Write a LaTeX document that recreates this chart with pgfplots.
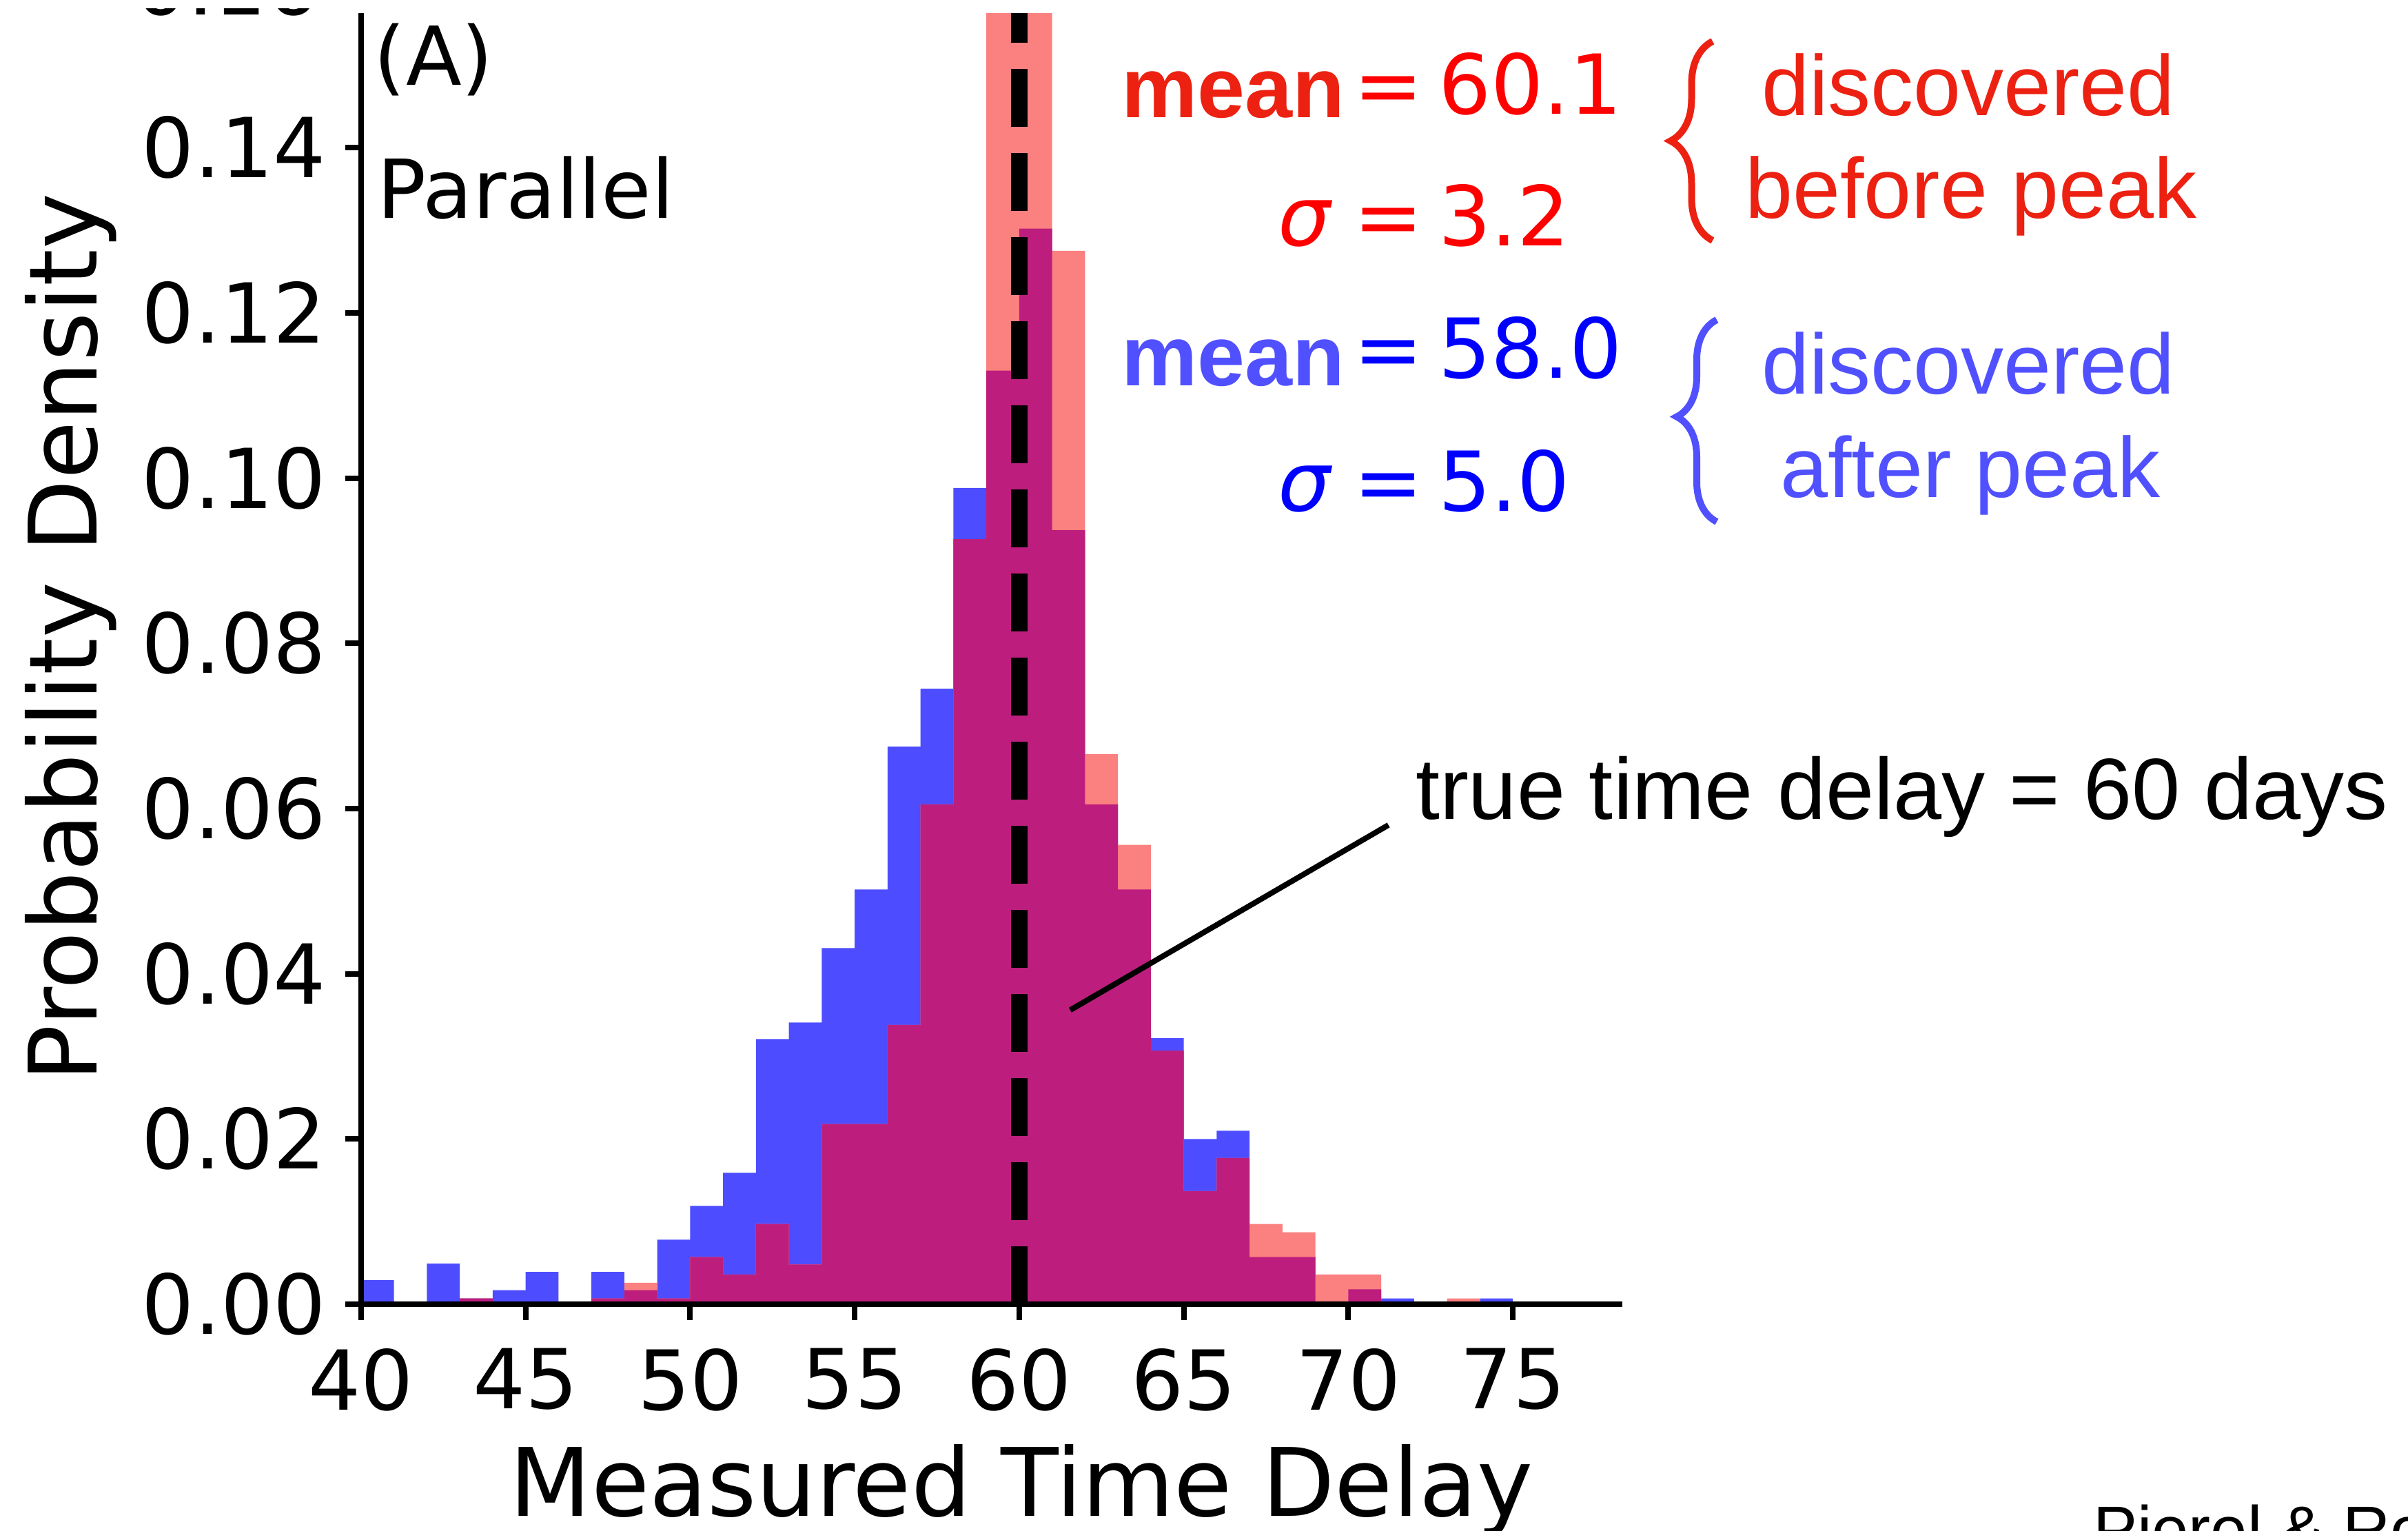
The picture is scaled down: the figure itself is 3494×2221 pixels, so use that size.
\documentclass[border=0pt]{standalone}
\usepackage{pgfplots}
\pgfplotsset{compat=1.18}
\usepackage{pgfplotstable}
\usetikzlibrary{decorations.pathreplacing}
\usepackage{fontspec}
\setmainfont{DejaVu Sans}
\newfontfamily\helv{Liberation Sans}

\definecolor{histblue}{RGB}{77,77,255}
\definecolor{histred}{RGB}{251,128,128}
\definecolor{histboth}{RGB}{189,30,125}
\definecolor{notered}{RGB}{236,33,18}
\definecolor{noteblue}{RGB}{80,80,255}

% left bin edge, density discovered after peak (blue), before peak (red)
\pgfplotstableread{
left blue   red
40   0.0029 0
41   0      0
42   0.0049 0
43   0.0007 0.0007
44   0.0017 0
45   0.0039 0
46   0      0
47   0.0039 0.0007
48   0.0017 0.0026
49   0.0078 0.0007
50   0.0119 0.0057
51   0.0159 0.0036
52   0.0321 0.0097
53   0.0341 0.0048
54   0.0431 0.0218
55   0.0502 0.0218
56   0.0675 0.0338
57   0.0745 0.0605
58   0.0988 0.0926
59   0.1130 0.1950
60   0.1302 0.2070
61   0.0937 0.1275
62   0.0605 0.0666
63   0.0502 0.0556
64   0.0322 0.0307
65   0.0200 0.0137
66   0.0210 0.0177
67   0.0057 0.0097
68   0.0057 0.0087
69   0      0.0036
70   0.0018 0.0036
71   0.0007 0
72   0      0
73   0      0.0007
74   0.0007 0
75   0      0
}\delays

\begin{document}
\begin{tikzpicture}
\begin{axis}[
  at={(52.4pt,32.9pt)}, anchor=south west,
  scale only axis, width=183pt, height=187.3pt,
  xmin=40, xmax=78.325, ymin=0, ymax=0.15628,
  axis x line*=bottom, axis y line*=left,
  axis line style={-, line width=0.8pt, black},
  tick align=outside, major tick length=2.3pt,
  every tick/.style={black, line width=0.8pt},
  xtick={40,45,...,75},
  ytick={0,0.02,0.04,0.06,0.08,0.10,0.12,0.14},
  scaled y ticks=false,
  /pgf/number format/assume math mode=true,
  yticklabel={\pgfmathprintnumber[fixed, fixed zerofill, precision=2]{\tick}},
  tick label style={font=\fontsize{12}{12}\selectfont, inner sep=0pt},
  yticklabel style={anchor=east, xshift=-2.6pt},
  xticklabel style={anchor=north, yshift=-3.9pt},
  axis on top,
]
\addplot[const plot, fill=histblue, draw=none] table[x=left, y=blue]{\delays} \closedcycle;
\addplot[const plot, fill=histred, draw=none] table[x=left, y=red]{\delays} \closedcycle;
\addplot[const plot, fill=histboth, draw=none]
  table[x=left, y expr={min(\thisrow{blue},\thisrow{red})}]{\delays} \closedcycle;
% true time delay
\addplot[black, line width=2.4pt, dash pattern=on 8.4pt off 3.8pt]
  coordinates {(60,0) (60,0.2)};
\draw[black, line width=0.8pt] (axis cs:61.55,0.0356) -- (axis cs:71.22,0.0580);
\end{axis}

\begin{scope}[x=0.1pt, y=0.1pt, every node/.style={inner sep=0pt, anchor=base west}]
  \path (0,0) rectangle (3494,2221);
  % axis labels
  \node[anchor=base, rotate=90, font=\fontsize{13.7}{14}\selectfont] at (140,1296) {Probability Density};
  % panel tags
  \node[font=\fontsize{11.8}{12}\selectfont] at (541,2097) {(A)};
  \node[font=\fontsize{11.8}{12}\selectfont] at (546,1904) {Parallel};
  % before-peak statistics
  \node[anchor=base east, text=notered, font=\helv\bfseries\fontsize{12.4}{13}\selectfont] at (1953,2050) {mean};
  \node[text=red, font=\fontsize{12}{13}\selectfont] at (1962,2055) {=};
  \node[text=red, font=\fontsize{12}{13}\selectfont] at (2085,2055) {60.1};
  \node[text=red, font=\fontsize{12}{13}\selectfont\itshape] at (1852,1864) {σ};
  \node[text=red, font=\fontsize{12}{13}\selectfont] at (1962,1864) {=};
  \node[text=red, font=\fontsize{12}{13}\selectfont] at (2085,1864) {3.2};
  % after-peak statistics
  \node[anchor=base east, text=noteblue, font=\helv\bfseries\fontsize{12.4}{13}\selectfont] at (1953,1661) {mean};
  \node[text=blue, font=\fontsize{12}{13}\selectfont] at (1962,1672) {=};
  \node[text=blue, font=\fontsize{12}{13}\selectfont] at (2085,1672) {58.0};
  \node[text=blue, font=\fontsize{12}{13}\selectfont\itshape] at (1852,1479) {σ};
  \node[text=blue, font=\fontsize{12}{13}\selectfont] at (1962,1479) {=};
  \node[text=blue, font=\fontsize{12}{13}\selectfont] at (2085,1479) {5.0};
  % braces and group names
  \draw[notered, line width=1.0pt, decorate,
    decoration={brace, amplitude=6.1pt, aspect=0.5}] (2485,1872) -- (2485,2161);
  \draw[noteblue, line width=1.0pt, decorate,
    decoration={brace, amplitude=5.8pt, aspect=0.52}] (2491,1464) -- (2491,1757);
  \node[anchor=base, text=notered, font=\helv\fontsize{12.4}{13}\selectfont] at (2856,2053) {discovered};
  \node[anchor=base, text=notered, font=\helv\fontsize{12.4}{13}\selectfont] at (2860,1904) {before peak};
  \node[anchor=base, text=noteblue, font=\helv\fontsize{12.4}{13}\selectfont] at (2856,1649) {discovered};
  \node[anchor=base, text=noteblue, font=\helv\fontsize{12.4}{13}\selectfont] at (2859,1499) {after peak};
  % pointer text
  \node[font=\helv\fontsize{12.6}{13}\selectfont] at (2052,1032) {true time delay = 60 days};
  % strips cut at the page edges
  \begin{scope}
    \clip (0,0) rectangle (3494,2208);
    \node[anchor=east, font=\fontsize{12}{12}\selectfont] at (465,2243) {0.16};
  \end{scope}
  \begin{scope}
    \clip (0,0) rectangle (3494,2221);
    \node[anchor=base, font=\fontsize{13.7}{14}\selectfont] at (1482,21) {Measured Time Delay};
    \node[font=\helv\fontsize{9.6}{10}\selectfont] at (3035,-32) {Pierel \& Rodney (2019)};
  \end{scope}
\end{scope}
\end{tikzpicture}
\end{document}
